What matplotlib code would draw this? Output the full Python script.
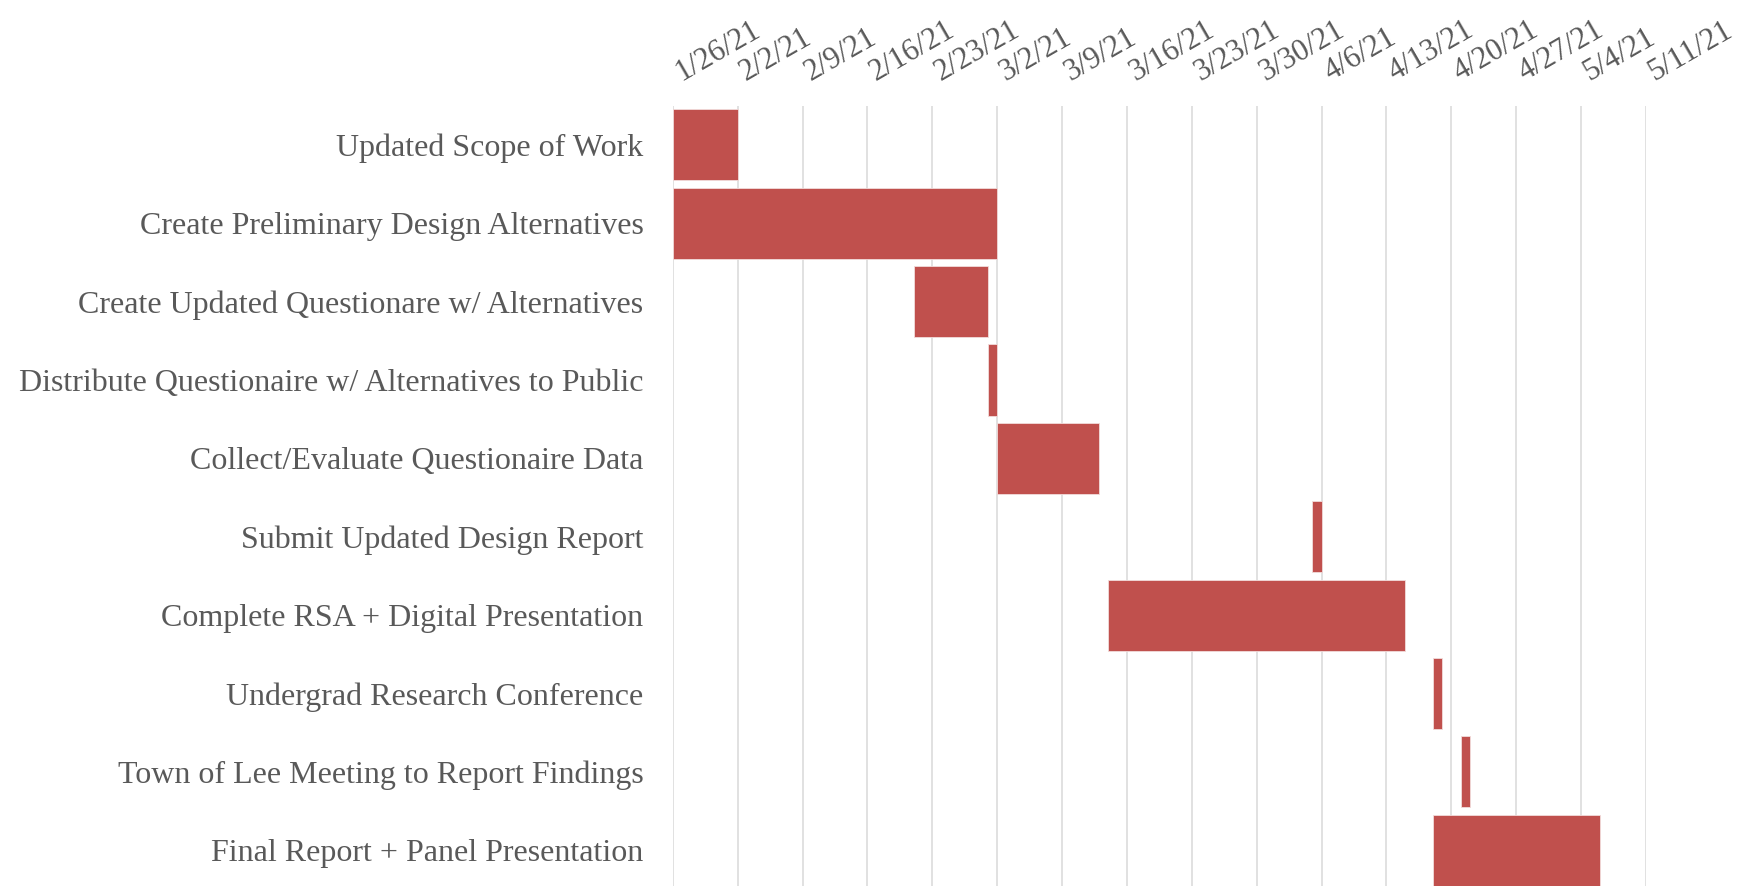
import matplotlib
matplotlib.use("Agg")
import matplotlib.pyplot as plt
import matplotlib.dates as mdates
import matplotlib.transforms as mtransforms
import datetime as dt

tasks = [
    "Updated Scope of Work",
    "Create Preliminary Design Alternatives",
    "Create Updated Questionare w/ Alternatives",
    "Distribute Questionaire w/ Alternatives to Public",
    "Collect/Evaluate Questionaire Data",
    "Submit Updated Design Report",
    "Complete RSA + Digital Presentation",
    "Undergrad Research Conference",
    "Town of Lee Meeting to Report Findings",
    "Final Report + Panel Presentation",
]
start_dates = ["2021-01-26", "2021-01-26", "2021-02-21", "2021-03-01", "2021-03-02",
               "2021-04-05", "2021-03-14", "2021-04-18", "2021-04-21", "2021-04-18"]
end_dates = ["2021-02-02", "2021-03-02", "2021-03-01", "2021-03-02", "2021-03-13",
             "2021-04-06", "2021-04-15", "2021-04-19", "2021-04-22", "2021-05-06"]
tick_dates = ["2021-01-26", "2021-02-02", "2021-02-09", "2021-02-16", "2021-02-23",
              "2021-03-02", "2021-03-09", "2021-03-16", "2021-03-23", "2021-03-30",
              "2021-04-06", "2021-04-13", "2021-04-20", "2021-04-27", "2021-05-04",
              "2021-05-11"]

def parse(s):
    return dt.datetime.strptime(s, "%Y-%m-%d")

starts = [mdates.date2num(parse(s)) for s in start_dates]
ends = [mdates.date2num(parse(s)) for s in end_dates]
widths = [e - s for s, e in zip(starts, ends)]
ticks = [mdates.date2num(parse(s)) for s in tick_dates]
tick_labels = [f"{parse(s).month}/{parse(s).day}/{parse(s).strftime('%y')}" for s in tick_dates]

text_color = "#595959"
serif = ["Liberation Serif", "DejaVu Serif"]
plt.rcParams["font.family"] = serif

fig = plt.figure(figsize=(17.47, 8.86), dpi=100)
ax = fig.add_axes([0.3851, -0.0038, 0.5571, 0.8845])

ypos = list(range(len(tasks)))
ax.barh(ypos, widths, left=starts, height=0.907, color="#C0504D",
        edgecolor="#F2DCDB", linewidth=0.6, zorder=3)

ax.set_xlim(ticks[0], ticks[-1])
ax.set_ylim(len(tasks) - 0.5, -0.5)

ax.xaxis.tick_top()
ax.set_xticks(ticks)
ax.set_xticklabels(tick_labels, rotation=30, ha="left", va="baseline",
                   rotation_mode="anchor", fontsize=22, color=text_color,
                   fontfamily=serif)
ax.grid(axis="x", color="#D9D9D9", linewidth=1.1, zorder=0)
ax.set_axisbelow(True)

ax.set_yticks(ypos)
ax.set_yticklabels(tasks, fontsize=23, color=text_color, fontfamily=serif)
ax.tick_params(axis="y", length=0, pad=21)
ax.tick_params(axis="x", length=0, pad=18)

shift = mtransforms.ScaledTranslation(6 / 72, 0, fig.dpi_scale_trans)
for lab in ax.get_xticklabels():
    lab.set_transform(lab.get_transform() + shift)

for s in ax.spines.values():
    s.set_visible(False)

fig.savefig("out.png", dpi=100)
